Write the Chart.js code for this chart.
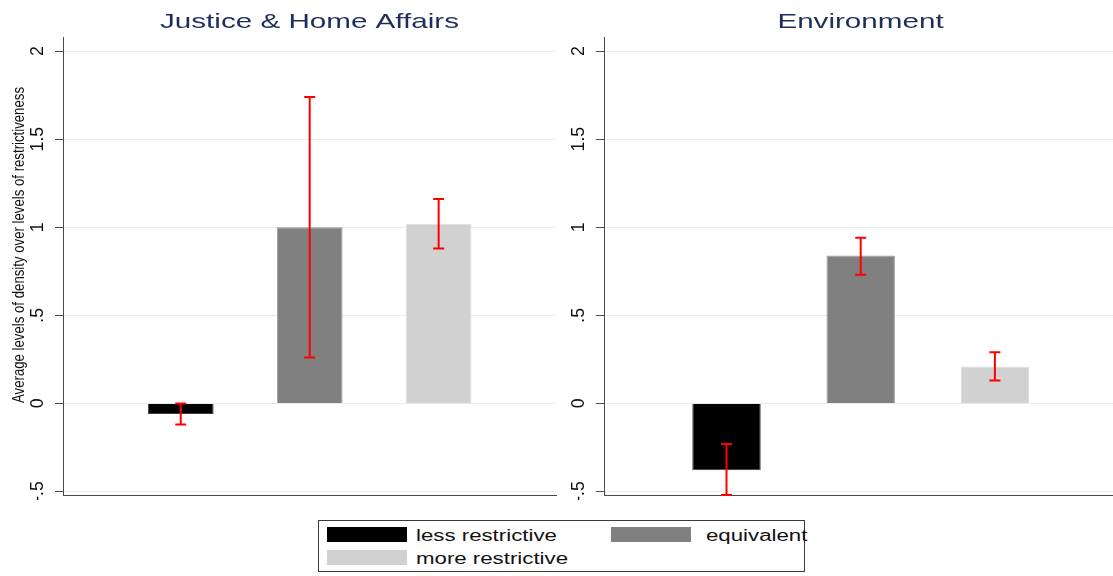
<!DOCTYPE html>
<html>
<head>
<meta charset="utf-8">
<script src="https://cdn.jsdelivr.net/npm/chart.js@4/dist/chart.umd.min.js"></script>
<style>
  html, body { margin: 0; padding: 0; background: #fff; width: 1113px; height: 576px; overflow: hidden; }
  #wrap { position: relative; width: 1113px; height: 576px; overflow: hidden; }
  canvas { position: absolute; top: 0; }
  #jha { left: 0; }
  #env { left: 548px; }
  .legend-box { position: absolute; left: 318px; top: 520px; width: 487px; height: 52px; box-sizing: border-box; border: 1px solid #3a3a3a; }
  .swatch { position: absolute; width: 80px; height: 15px; }
  .ltext { position: absolute; font: 16px "Liberation Sans", Arial, sans-serif; line-height: 16px; color: #111; white-space: nowrap; transform: scaleX(1.39); transform-origin: left center; }
</style>
</head>
<body>
<div id="wrap">
  <canvas id="jha" width="560" height="500"></canvas>
  <canvas id="env" width="572" height="500"></canvas>
  <div class="legend-box"></div>
  <div id="legend"></div>
</div>
<script>
// Categories and bar colours
const categories = ['less restrictive', 'equivalent', 'more restrictive'];
const barColors = ['#000000', '#808080', '#d1d1d1'];
const barEdges = ['#3c3c3c', '#9c9c9c', '#dedede'];
const categoryPositions = [1, 2, 3];

// Justice & Home Affairs: means with lower / upper bounds
const jhaMeans = [-0.06, 1.00, 1.02];
const jhaLower = [-0.12, 0.26, 0.88];
const jhaUpper = [0.00, 1.74, 1.16];

// Environment: means with lower / upper bounds
const envMeans = [-0.38, 0.84, 0.21];
const envLower = [-0.52, 0.73, 0.13];
const envUpper = [-0.23, 0.94, 0.29];

// Y axis ticks
const yTickValues = [-0.5, 0, 0.5, 1, 1.5, 2];
const yTickLabels = ['-.5', '0', '.5', '1', '1.5', '2'];

const yAxisTitle = 'Average levels of density over levels of restrictiveness';

// Error bars, rotated tick labels, panel title and (optionally) the y-axis title
const panelDecor = {
  id: 'panelDecor',
  afterDatasetsDraw(chart, args, opts) {
    const ctx = chart.ctx;
    const xs = chart.scales.x, ys = chart.scales.y;
    const area = chart.chartArea;
    ctx.save();
    ctx.beginPath();
    ctx.rect(area.left, area.top - 2, area.right - area.left, area.bottom - area.top + 3);
    ctx.clip();
    ctx.strokeStyle = '#ff0000';
    ctx.lineWidth = 2;
    opts.lower.forEach((lo, i) => {
      const x = xs.getPixelForValue(categoryPositions[i]);
      const yLo = ys.getPixelForValue(lo);
      const yHi = ys.getPixelForValue(opts.upper[i]);
      ctx.beginPath();
      ctx.moveTo(x, yLo); ctx.lineTo(x, yHi);
      ctx.moveTo(x - 5.5, yLo); ctx.lineTo(x + 5.5, yLo);
      ctx.moveTo(x - 5.5, yHi); ctx.lineTo(x + 5.5, yHi);
      ctx.stroke();
    });
    ctx.restore();
  },
  afterDraw(chart, args, opts) {
    const ctx = chart.ctx;
    const ys = chart.scales.y;
    const area = chart.chartArea;
    ctx.save();
    ctx.fillStyle = '#111';
    ctx.font = '19px "Liberation Sans", Arial, sans-serif';
    ctx.textAlign = 'center';
    ctx.textBaseline = 'alphabetic';
    yTickValues.forEach((v, i) => {
      const y = ys.getPixelForValue(v);
      ctx.save();
      ctx.translate(area.left - 20.5, y);
      ctx.rotate(-Math.PI / 2);
      ctx.scale(0.93, 1);
      ctx.fillText(yTickLabels[i], 0, 0);
      ctx.restore();
    });

    // panel title
    ctx.fillStyle = '#1e2d5c';
    ctx.font = '21px "Liberation Sans", Arial, sans-serif';
    ctx.save();
    ctx.translate((area.left + area.right) / 2, 28.3);
    ctx.scale(1.41, 1);
    ctx.fillText(opts.title, 0, 0);
    ctx.restore();

    if (opts.axisTitle) {
      ctx.fillStyle = '#111';
      ctx.font = '17px "Liberation Sans", Arial, sans-serif';
      const w = ctx.measureText(opts.axisTitle).width;
      ctx.save();
      ctx.translate(24, 245);
      ctx.rotate(-Math.PI / 2);
      ctx.scale(316 / w, 1);
      ctx.fillText(opts.axisTitle, 0, 0);
      ctx.restore();
    }
    ctx.restore();
  }
};

function makePanel(canvasId, means, lower, upper, title, axisTitle, padLeft, padRight) {
  return new Chart(document.getElementById(canvasId), {
    type: 'bar',
    data: {
      datasets: [{
        data: means.map((m, i) => ({ x: categoryPositions[i], y: m })),
        backgroundColor: barColors,
        borderColor: barEdges,
        borderWidth: 1,
        categoryPercentage: 1,
        barPercentage: 0.51
      }]
    },
    options: {
      responsive: false,
      animation: false,
      events: [],
      layout: { padding: { left: padLeft, right: padRight, top: 37, bottom: 5 } },
      plugins: {
        legend: { display: false },
        tooltip: { enabled: false },
        panelDecor: { lower, upper, title, axisTitle }
      },
      scales: {
        x: {
          type: 'linear',
          min: 0.087,
          max: 3.91,
          offset: false,
          afterBuildTicks: (scale) => { scale.ticks = categoryPositions.map(v => ({ value: v })); },
          grid: { display: false, drawTicks: false },
          ticks: { display: false },
          border: { display: true, color: '#4a4a4a', width: 1 }
        },
        y: {
          type: 'linear',
          min: -0.52,
          max: 2.08,
          afterBuildTicks: (scale) => { scale.ticks = yTickValues.map(v => ({ value: v })); },
          grid: { color: '#e5eded', lineWidth: 1, tickLength: 8, tickColor: '#4a4a4a', drawTicks: true },
          ticks: { display: false },
          border: { display: true, color: '#4a4a4a', width: 1 }
        }
      }
    },
    plugins: [panelDecor]
  });
}

makePanel('jha', jhaMeans, jhaLower, jhaUpper, 'Justice & Home Affairs', yAxisTitle, 55, 4);
makePanel('env', envMeans, envLower, envUpper, 'Environment', null, 48, 3);

// Legend below both panels
const legendSpots = [
  { sx: 327, sy: 527, tx: 416, ty: 528.2 },
  { sx: 611, sy: 527, tx: 706, ty: 528.2 },
  { sx: 327, sy: 550, tx: 416, ty: 550.8 }
];
const legendEl = document.getElementById('legend');
categories.forEach((name, i) => {
  const p = legendSpots[i];
  const sw = document.createElement('div');
  sw.className = 'swatch';
  sw.style.left = p.sx + 'px';
  sw.style.top = p.sy + 'px';
  sw.style.background = barColors[i];
  legendEl.appendChild(sw);
  const t = document.createElement('div');
  t.className = 'ltext';
  t.style.left = p.tx + 'px';
  t.style.top = p.ty + 'px';
  t.textContent = name;
  legendEl.appendChild(t);
});
</script>
</body>
</html>
